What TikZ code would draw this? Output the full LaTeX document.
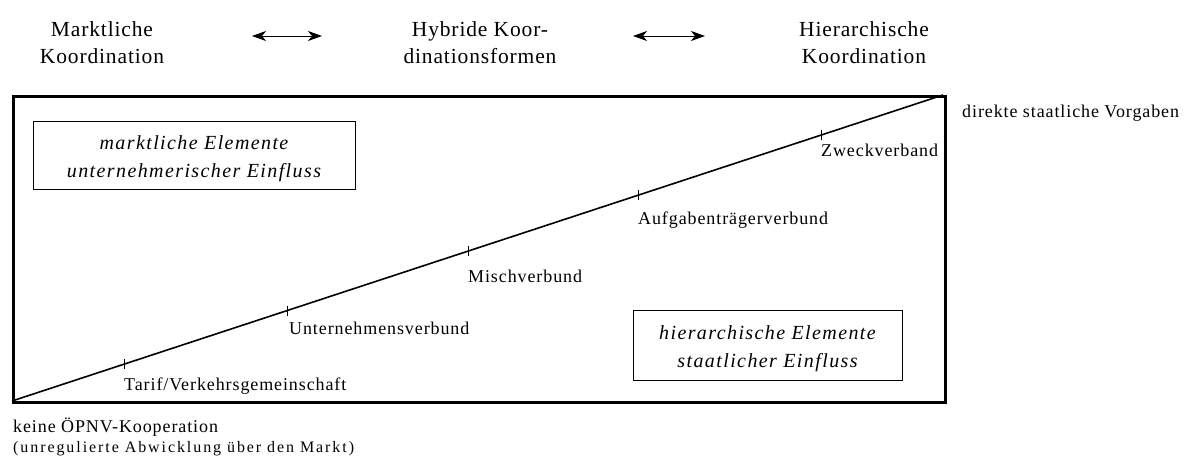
\documentclass[tikz,border=0pt]{standalone}
\usepackage{fontspec}
\setmainfont{Liberation Serif}
\newfontfamily\hdfont[LetterSpace=4]{Liberation Serif}
\newfontfamily\lbfont[LetterSpace=5]{Liberation Serif}
\newfontfamily\smfont[LetterSpace=12]{Liberation Serif}
\newfontfamily\itfont[LetterSpace=7]{Liberation Serif}
\usetikzlibrary{arrows.meta,calc}
\begin{document}
\begin{tikzpicture}[x=1pt,y=-1pt,
  head/.style={align=center,font=\hdfont\fontsize{21.5}{27}\selectfont,inner sep=0pt},
  lbl/.style={anchor=base west,font=\lbfont\fontsize{18}{20}\selectfont,inner sep=0pt},
  elembox/.style={draw,line width=1pt,minimum width=322pt,minimum height=68pt,inner sep=0pt},
  elemtext/.style={align=center,font=\itfont\itshape\fontsize{20}{28}\selectfont,inner sep=0pt},
  tick/.style={line width=1pt},
  dbl/.style={line width=0.9pt,{Stealth[length=14pt,width=10pt,inset=4pt]}-{Stealth[length=14pt,width=10pt,inset=4pt]}}]
\useasboundingbox (0,0) rectangle (1196,457);
\node[head] (mk) at (102,43) {Marktliche\\Koordination};
\node[head] (hk) at (480,43) {Hybride Koor-\\dinationsformen};
\node[head] (hi) at (864,43) {Hierarchische\\Koordination};
\coordinate (a1l) at (252,36); \coordinate (a1r) at (322,36);
\coordinate (a2l) at (633,36); \coordinate (a2r) at (705,36);
\draw[dbl] (a1l) -- (a1r);
\draw[dbl] (a2l) -- (a2r);
\node[draw,line width=3pt,minimum width=932pt,minimum height=306pt,anchor=north west,inner sep=0pt] (frame) at (12,95) {};
\coordinate (bl) at (12,401); \coordinate (tr) at (943,95);
\draw[line width=1.6pt] (bl) -- (tr);
\foreach \t/\n in {0.1204/t1,0.2957/t2,0.4903/t3,0.6731/t4,0.8699/t5}{
  \coordinate (\n) at ($(bl)!\t!(tr)$);
  \draw[tick] ($(\n)+(0,-5)$) -- ($(\n)+(0,5)$);
}
\node[lbl] (l1) at (124,390) {Tarif/Verkehrsgemeinschaft};
\node[lbl] (l2) at (289,334) {Unternehmensverbund};
\node[lbl] (l3) at (468,282) {Mischverbund};
\node[lbl] (l4) at (638,224) {Aufgabenträgerverbund};
\node[lbl] (l5) at (821,157) {Zweckverband};
\node[lbl] (dv) at (962,118) {direkte staatliche Vorgaben};
\node[lbl] (ko) at (13,432) {keine ÖPNV-Kooperation};
\node[lbl,font=\smfont\fontsize{16}{18}\selectfont] (um) at (13,452) {(unregulierte Abwicklung über den Markt)};
\node[elembox] (me) at (194,156) {};
\node[elemtext] (met) at ($(me.center)+(0,3)$) {marktliche Elemente\\unternehmerischer Einfluss};
\node[elembox,minimum width=269pt,minimum height=70pt] (he) at (767.5,345) {};
\node[elemtext] (het) at ($(he.center)+(0,4)$) {hierarchische Elemente\\staatlicher Einfluss};
\end{tikzpicture}
\end{document}
